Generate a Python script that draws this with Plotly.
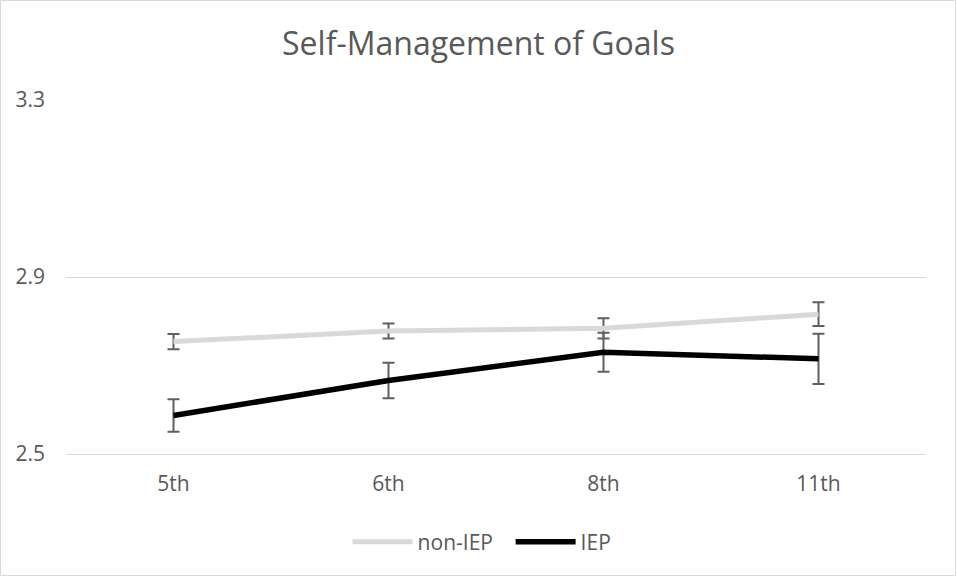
import plotly.graph_objects as go

grades = ["5th", "6th", "8th", "11th"]
non_iep = [2.754, 2.778, 2.784, 2.816]
non_iep_err = [0.017, 0.017, 0.023, 0.027]
iep = [2.587, 2.666, 2.730, 2.715]
iep_err = [0.037, 0.040, 0.044, 0.057]
y_ticks = [2.5, 2.9, 3.3]

W, H = 957, 577
L, R, T, B = 66, 31, 100, 123
pw, ph = W - L - R, H - T - B

fig = go.Figure()
fig.add_trace(go.Scatter(
    x=grades, y=non_iep, name="non-IEP", mode="lines",
    line=dict(color="#D9D9D9", width=5),
    error_y=dict(type="data", array=non_iep_err, visible=True,
                 color="#5f5f5f", thickness=2, width=6),
))
fig.add_trace(go.Scatter(
    x=grades, y=iep, name="IEP", mode="lines",
    line=dict(color="#000000", width=5.5),
    error_y=dict(type="data", array=iep_err, visible=True,
                 color="#5f5f5f", thickness=2, width=6),
))

fig.update_layout(
    width=W, height=H,
    margin=dict(l=L, r=R, t=T, b=B),
    paper_bgcolor="white", plot_bgcolor="white",
    font=dict(family="Open Sans, Calibri, sans-serif", color="#595959", size=21),
    title=dict(text="Self-Management of Goals", x=0.5, xanchor="center",
               y=1 - 44 / H, yanchor="middle",
               font=dict(size=32, color="#595959")),
    xaxis=dict(type="category", range=[-0.5, 3.5], showgrid=False,
               showline=True, linecolor="#D9D9D9", linewidth=1,
               ticks="", ticklabelstandoff=11,
               tickfont=dict(size=21, color="#595959")),
    yaxis=dict(range=[2.5, 3.3], tickvals=y_ticks, ticktext=[f"{v:.1f}" for v in y_ticks],
               showgrid=True, gridcolor="#D9D9D9", gridwidth=1,
               zeroline=False, showline=False, ticks="", ticklabelstandoff=20,
               tickfont=dict(size=21, color="#595959")),
    legend=dict(orientation="h", x=0.517, xanchor="center",
                y=-(542 - (T + ph)) / ph, yanchor="middle", itemwidth=60,
                entrywidth=88, entrywidthmode="pixels",
                font=dict(size=21, color="#595959"), bgcolor="rgba(0,0,0,0)"),
    showlegend=True,
)

fig.add_shape(type="rect", xref="paper", yref="paper",
              x0=-(L - 0.5) / pw, x1=1 + (R - 1.5) / pw,
              y0=-(B - 1.5) / ph, y1=1 + (T - 0.5) / ph,
              line=dict(color="#D9D9D9", width=1), fillcolor="rgba(0,0,0,0)",
              layer="below")

fig.write_html("out.html", config={"displayModeBar": False},
               post_script="document.body.style.margin='0';")
